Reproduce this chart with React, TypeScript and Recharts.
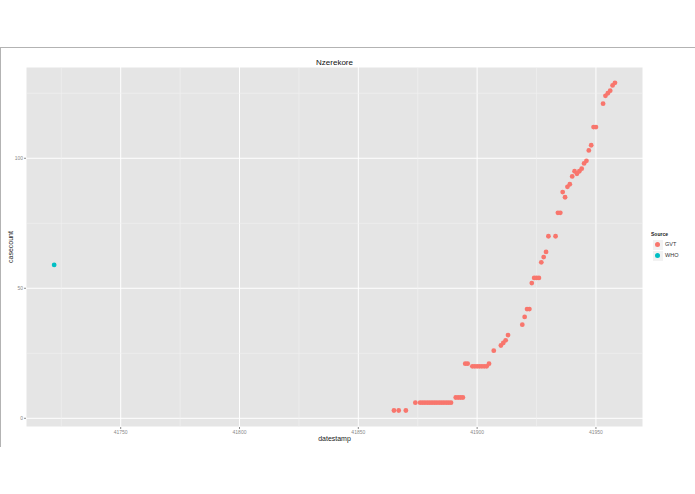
import React from 'react';
import {
  ScatterChart,
  Scatter,
  XAxis,
  YAxis,
  CartesianGrid,
  ReferenceLine,
} from 'recharts';

const gvtDates = [
  41865, 41867, 41870, 41874, 41876, 41877, 41878, 41879, 41880, 41881, 41882, 41883, 41884, 41885,
  41886, 41887, 41888, 41889, 41891, 41892, 41893, 41894, 41895, 41896, 41898, 41899, 41900, 41901,
  41902, 41903, 41904, 41905, 41907, 41910, 41911, 41912, 41913, 41919, 41920, 41921, 41922, 41923,
  41924, 41925, 41926, 41927, 41928, 41929, 41930, 41933, 41934, 41935, 41936, 41937, 41938, 41939,
  41940, 41941, 41942, 41943, 41944, 41945, 41946, 41947, 41948, 41949, 41950, 41953, 41954, 41955,
  41956, 41957, 41958,
];
const gvtCounts = [
  3, 3, 3, 6, 6, 6, 6, 6, 6, 6, 6, 6, 6, 6,
  6, 6, 6, 6, 8, 8, 8, 8, 21, 21, 20, 20, 20, 20,
  20, 20, 20, 21, 26, 28, 29, 30, 32, 36, 39, 42, 42, 52,
  54, 54, 54, 60, 62, 64, 70, 70, 79, 79, 87, 85, 89, 90,
  93, 95, 94, 95, 96, 98, 99, 103, 105, 112, 112, 121, 124, 125,
  126, 128, 129,
];
const whoDates = [41722];
const whoCounts = [59];

const xTicks = [41750, 41800, 41850, 41900, 41950];
const xMinor = [41725, 41775, 41825, 41875, 41925];
const yTicks = [0, 50, 100];
const yMinor = [25, 75, 125];

const seriesNames = ['GVT', 'WHO'];
const seriesColors = ['#F8766D', '#00BFC4'];

const gvtData = gvtDates.map((d, i) => ({ datestamp: d, casecount: gvtCounts[i] }));
const whoData = whoDates.map((d, i) => ({ datestamp: d, casecount: whoCounts[i] }));

const tickStyle = { fontSize: 5, fill: '#8a8a8a', fontFamily: 'Liberation Sans, Arial, sans-serif' };

const dot = (color: string) => (props: any) => (
  <circle cx={props.cx} cy={props.cy} r={2.4} fill={color} />
);

export default function App() {
  return (
    <div
      style={{
        position: 'absolute',
        left: 0,
        top: 0,
        width: 695,
        height: 494,
        background: '#fff',
        fontFamily: 'Liberation Sans, Arial, sans-serif',
        overflow: 'hidden',
      }}
    >
      {/* outer frame of the screenshot */}
      <div style={{ position: 'absolute', left: 0, top: 47, width: 695, height: 1, background: '#b3b3b3' }} />
      <div style={{ position: 'absolute', left: 0, top: 47, width: 1, height: 400, background: '#b3b3b3' }} />

      <ScatterChart
        width={695}
        height={494}
        margin={{ top: 67, right: 52, bottom: 47, left: 6 }}
        style={{ position: 'absolute', left: 0, top: 0 }}
      >
        <CartesianGrid fill="#E5E5E5" stroke="#ffffff" strokeWidth={1} />
        {xMinor.map((v) => (
          <ReferenceLine key={'xm' + v} x={v} stroke="#F2F2F2" strokeWidth={0.6} />
        ))}
        {yMinor.map((v) => (
          <ReferenceLine key={'ym' + v} y={v} stroke="#F2F2F2" strokeWidth={0.6} />
        ))}
        <XAxis
          type="number"
          dataKey="datestamp"
          domain={[41710.15, 41969.8]}
          ticks={xTicks}
          allowDataOverflow
          height={20}
          tick={tickStyle}
          tickSize={2}
          tickMargin={1}
          tickLine={{ stroke: '#8a8a8a' }}
          axisLine={false}
        />
        <YAxis
          type="number"
          dataKey="casecount"
          domain={[-3.35, 135.1]}
          ticks={yTicks}
          allowDataOverflow
          width={20}
          tick={tickStyle}
          tickSize={2}
          tickMargin={1}
          tickLine={{ stroke: '#8a8a8a' }}
          axisLine={false}
        />
        <Scatter name="GVT" data={gvtData} fill={seriesColors[0]} shape={dot(seriesColors[0])} isAnimationActive={false} />
        <Scatter name="WHO" data={whoData} fill={seriesColors[1]} shape={dot(seriesColors[1])} isAnimationActive={false} />
      </ScatterChart>

      {/* title */}
      <div
        style={{
          position: 'absolute',
          left: 26,
          width: 617,
          top: 58,
          textAlign: 'center',
          fontSize: 8,
          color: '#111',
        }}
      >
        Nzerekore
      </div>

      {/* axis titles */}
      <div
        style={{
          position: 'absolute',
          left: 26,
          width: 617,
          top: 435,
          textAlign: 'center',
          fontSize: 7,
          color: '#222',
        }}
      >
        datestamp
      </div>
      <div
        style={{
          position: 'absolute',
          left: 10,
          top: 247,
          fontSize: 7,
          color: '#222',
          transform: 'translate(-50%, -50%) rotate(-90deg)',
          whiteSpace: 'nowrap',
        }}
      >
        casecount
      </div>

      {/* legend */}
      <div style={{ position: 'absolute', left: 651, top: 231, fontSize: 5, fontWeight: 'bold', color: '#222' }}>
        Source
      </div>
      {seriesNames.map((name, i) => (
        <div key={name} style={{ position: 'absolute', left: 653, top: 239.5 + i * 11.4, height: 10 }}>
          <div
            style={{
              position: 'absolute',
              left: 0,
              top: 0,
              width: 9.5,
              height: 10,
              background: '#F2F2F2',
            }}
          />
          <div
            style={{
              position: 'absolute',
              left: 2.2,
              top: 2.5,
              width: 5,
              height: 5,
              borderRadius: '50%',
              background: seriesColors[i],
            }}
          />
          <div style={{ position: 'absolute', left: 12, top: 1.5, fontSize: 5.5, color: '#333', whiteSpace: 'nowrap' }}>
            {name}
          </div>
        </div>
      ))}
    </div>
  );
}
